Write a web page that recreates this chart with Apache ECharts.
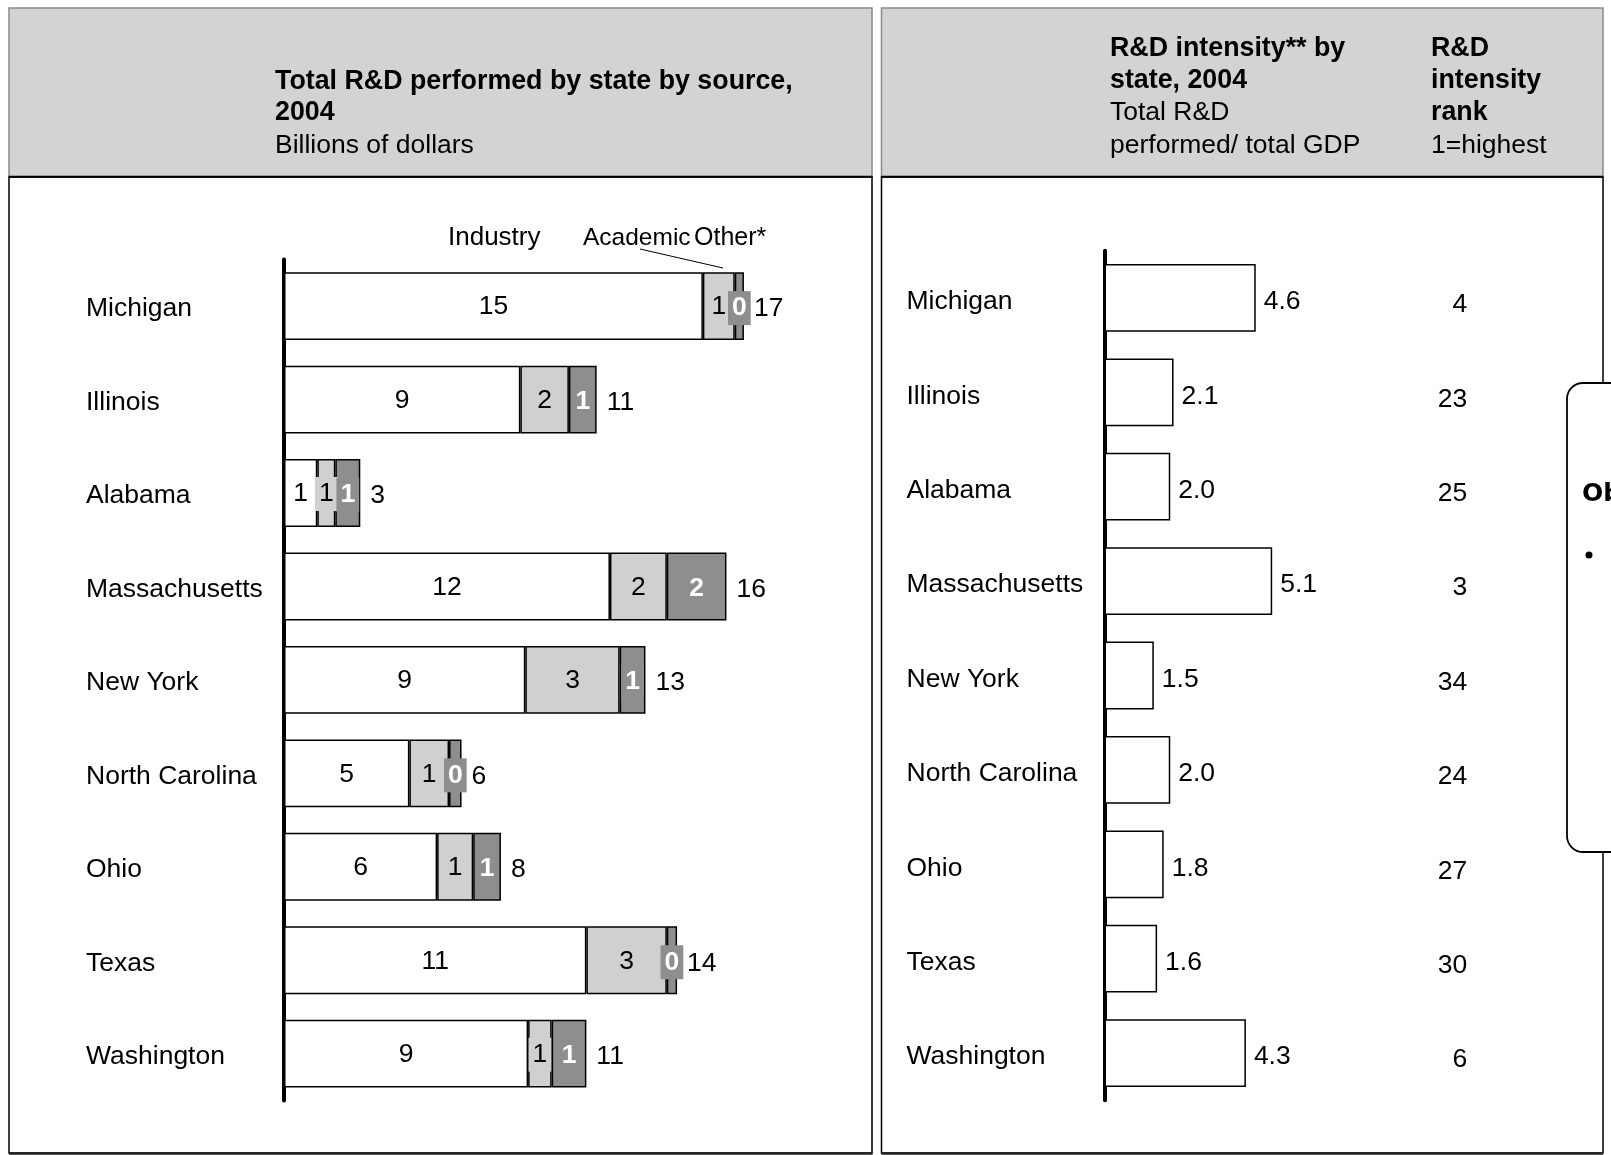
<!DOCTYPE html>
<html><head><meta charset="utf-8">
<script src="https://cdn.jsdelivr.net/npm/echarts@6/dist/echarts.min.js"></script>
<style>html,body{margin:0;padding:0;background:#fff}#c{width:1611px;height:1155px}</style>
</head><body><div id="c"></div>
<script>
const states = ['Michigan','Illinois','Alabama','Massachusetts','New York','North Carolina','Ohio','Texas','Washington'];
const industry = [15.1, 8.52, 1.2, 11.75, 8.7, 4.52, 5.52, 10.9, 8.8];
const academic = [1.15, 1.75, 0.65, 2.05, 3.4, 1.43, 1.3, 2.9, 0.85];
const other = [0.33, 1.0, 0.9, 2.15, 0.93, 0.45, 1.0, 0.37, 1.25];
const intensity = [4.6, 2.1, 2.0, 5.1, 1.5, 2.0, 1.8, 1.6, 4.3];
const rank = [4, 23, 25, 3, 34, 24, 27, 30, 6];
const totals = states.map((s, i) => industry[i] + academic[i] + other[i]);

const FF = 'Liberation Sans, Arial, Helvetica, sans-serif';
const FS = 26.5;
const FSB = 26.8;
const LIGHT = '#d0d0d0', DARK = '#8e8e8e';

const chart = echarts.init(document.getElementById('c'), null, {renderer: 'canvas'});

function txt(t, x, y, bold, size) {
  return {
    type: 'text', z: 5,
    style: {text: t, x: x, y: y, fill: '#000',
            font: (bold ? 'bold ' : '') + (size || (bold ? FSB : FS)) + 'px ' + FF,
            align: 'left', verticalAlign: 'middle'}
  };
}

const graphics = [
  {type: 'rect', z: -5, shape: {x: 9, y: 8, width: 863, height: 169}, style: {fill: '#d3d3d3', stroke: '#8a8a8a', lineWidth: 1.5}},
  {type: 'rect', z: -5, shape: {x: 9, y: 177, width: 863, height: 976}, style: {fill: '#fff', stroke: '#000', lineWidth: 1.5}},
  {type: 'rect', z: -5, shape: {x: 881.5, y: 8, width: 721.5, height: 169}, style: {fill: '#d3d3d3', stroke: '#8a8a8a', lineWidth: 1.5}},
  {type: 'rect', z: -5, shape: {x: 881.5, y: 177, width: 721.5, height: 976}, style: {fill: '#fff', stroke: '#000', lineWidth: 1.5}},
  {type: 'line', z: -4, shape: {x1: 9, y1: 1153.5, x2: 872.5, y2: 1153.5}, style: {stroke: '#222', lineWidth: 2.5}},
  {type: 'line', z: -4, shape: {x1: 881.5, y1: 1153.5, x2: 1603, y2: 1153.5}, style: {stroke: '#222', lineWidth: 2.5}},
  {type: 'line', z: -4, shape: {x1: 9, y1: 176.7, x2: 872.5, y2: 176.7}, style: {stroke: '#000', lineWidth: 2}},
  {type: 'line', z: -4, shape: {x1: 881.5, y1: 176.7, x2: 1603, y2: 176.7}, style: {stroke: '#000', lineWidth: 2}},
  txt('Total R&D performed by state by source,', 275, 82, true),
  txt('2004', 275, 113, true),
  txt('Billions of dollars', 275, 146, false),
  txt('R&D intensity** by', 1110, 49, true),
  txt('state, 2004', 1110, 81, true),
  txt('Total R&D', 1110, 113, false),
  txt('performed/ total GDP', 1110, 146, false),
  txt('R&D', 1431, 49, true),
  txt('intensity', 1431, 81, true),
  txt('rank', 1431, 113, true),
  txt('1=highest', 1431, 146, false),
  txt('Industry', 448, 238, false, 26),
  txt('Academic', 583, 238, false, 24.5),
  txt('Other*', 694, 238, false, 25),
  {type: 'line', z: 5, shape: {x1: 640, y1: 249, x2: 723, y2: 268}, style: {stroke: '#000', lineWidth: 1}},
  {type: 'rect', z: 50, shape: {x: 1567, y: 383, width: 80, height: 469, r: 16}, style: {fill: '#fff', stroke: '#000', lineWidth: 1.8}},
  {type: 'text', z: 51, style: {text: 'Ob', x: 1582, y: 494, fill: '#000', font: 'bold 25px DejaVu Sans, sans-serif', align: 'left', verticalAlign: 'middle'}},
  {type: 'circle', z: 51, shape: {cx: 1589, cy: 555, r: 3.5}, style: {fill: '#000'}}
];

function catAxis(gridIndex, shift) {
  return {
    gridIndex: gridIndex, type: 'category', inverse: true, data: states,
    axisTick: {show: false},
    axisLine: {show: true, lineStyle: {color: '#000', width: 4}},
    axisLabel: {align: 'left', verticalAlign: 'top', lineHeight: shift * 2, margin: 198,
                color: '#000', fontSize: FS, fontFamily: FF, interval: 0}
  };
}

const barLabelBase = {show: true, fontSize: FS, fontFamily: FF, color: '#000'};

chart.setOption({
  animation: false,
  backgroundColor: '#fff',
  graphic: graphics,
  grid: [
    {left: 284, top: 259.4, bottom: 54.6, right: 1611 - 284 - 554.8},
    {left: 1104.5, top: 250.7, bottom: 54.7, right: 1611 - 1104.5 - 328.8}
  ],
  xAxis: [
    {gridIndex: 0, type: 'value', min: 0, max: 20, show: false},
    {gridIndex: 1, type: 'value', min: 0, max: 10, show: false}
  ],
  yAxis: [
    catAxis(0, 3),
    catAxis(1, 4),
    {gridIndex: 1, type: 'category', inverse: true, position: 'right', data: rank.map(String),
     axisTick: {show: false}, axisLine: {show: false},
     axisLabel: {align: 'right', verticalAlign: 'top', lineHeight: 14, margin: 34, interval: 0,
                 color: '#000', fontSize: FS, fontFamily: FF}}
  ],
  series: [
    {type: 'bar', name: 'Industry', stack: 's', xAxisIndex: 0, yAxisIndex: 0, barCategoryGap: '27.4%',
     data: industry, itemStyle: {color: '#fff', borderColor: '#000', borderWidth: 1.5},
     label: Object.assign({}, barLabelBase, {position: 'inside', offset: [0, 1], formatter: p => String(Math.round(p.value))})},
    {type: 'bar', name: 'Academic', stack: 's', xAxisIndex: 0, yAxisIndex: 0,
     data: academic, itemStyle: {color: LIGHT, borderColor: '#000', borderWidth: 1.5},
     label: Object.assign({}, barLabelBase, {position: 'inside', offset: [0, 1], backgroundColor: LIGHT, padding: [4, 4], lineHeight: 26,
       formatter: p => String(Math.round(p.value))})},
    {type: 'bar', name: 'Other*', stack: 's', xAxisIndex: 0, yAxisIndex: 0,
     data: other, itemStyle: {color: DARK, borderColor: '#000', borderWidth: 1.5},
     label: Object.assign({}, barLabelBase, {position: 'inside', offset: [0, 2], color: '#fff', fontWeight: 'bold', backgroundColor: DARK,
       padding: [4, 4], lineHeight: 26, formatter: p => String(Math.round(p.value))})},
    {type: 'scatter', name: 'Total', xAxisIndex: 0, yAxisIndex: 0, symbolSize: 0,
     itemStyle: {color: '#000', opacity: 1}, silent: true,
     data: states.map((s, i) => [totals[i], s]),
     label: Object.assign({}, barLabelBase, {position: 'right', distance: 10, offset: [0, 3], opacity: 1,
       formatter: p => String(Math.round(p.value[0]))})},
    {type: 'bar', name: 'Intensity', xAxisIndex: 1, yAxisIndex: 1, barCategoryGap: '28.2%',
     data: intensity, itemStyle: {color: '#fff', borderColor: '#000', borderWidth: 1.5},
     label: Object.assign({}, barLabelBase, {position: 'right', distance: 8, offset: [0, 4], formatter: p => p.value.toFixed(1)})}
  ]
});
</script></body></html>
